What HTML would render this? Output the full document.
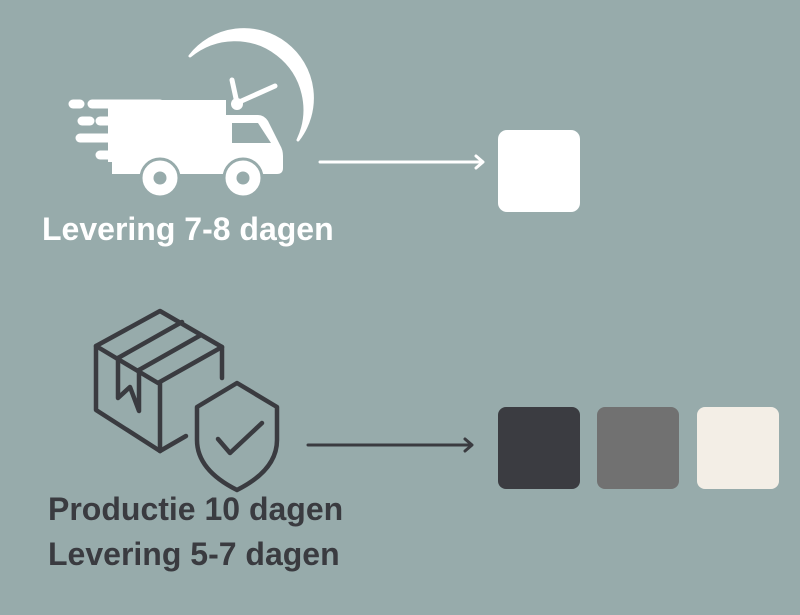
<!DOCTYPE html>
<html><head><style>
body{margin:0;width:800px;height:615px;background:#97abab;position:relative;overflow:hidden;font-family:"Liberation Sans",sans-serif;}
.t{position:absolute;font-weight:bold;white-space:nowrap;}
</style></head><body>
<svg width="800" height="615" style="position:absolute;left:0;top:0">
<path d="M190 56 A70 70 0 0 1 298 140 A66 66 0 0 0 190 56 Z" fill="#fff" stroke="#fff" stroke-width="3" stroke-linejoin="round"/>
<line x1="237" y1="103" x2="232" y2="80" stroke="#fff" stroke-width="5" stroke-linecap="round"/>
<line x1="237" y1="103" x2="275" y2="86" stroke="#fff" stroke-width="5" stroke-linecap="round"/>
<circle cx="237" cy="104" r="6" fill="#fff"/>
<g stroke="#fff" stroke-width="9" stroke-linecap="round">
<line x1="73" y1="104" x2="80" y2="104"/>
<line x1="92" y1="104" x2="160" y2="104"/>
<line x1="82" y1="121" x2="90" y2="121"/>
<line x1="100" y1="121" x2="155" y2="121"/>
<line x1="80" y1="138" x2="150" y2="138"/>
<line x1="100" y1="155" x2="140" y2="155"/>
</g>
<path d="M118 100 H226 V115 H258 Q264 115 268 121 L280 145 Q283 150 283 156 V168 Q283 174 277 174 H112 V162 H108 V100 Z" fill="#fff"/>
<path d="M232 123 H258 L271 143 H232 Z" fill="#97abab"/>
<circle cx="160" cy="178" r="19" fill="#fff" stroke="#97abab" stroke-width="3"/>
<circle cx="160" cy="178" r="6.5" fill="#97abab"/>
<circle cx="243" cy="178" r="19" fill="#fff" stroke="#97abab" stroke-width="3"/>
<circle cx="243" cy="178" r="6.5" fill="#97abab"/>
<g stroke="#fff" stroke-width="3" fill="none" stroke-linecap="round" stroke-linejoin="round">
<line x1="320" y1="162" x2="482" y2="162"/><polyline points="476,156 483,162 476,168"/>
</g>
<rect x="498" y="130" width="82" height="82" rx="9" fill="#fff"/>
<g stroke="#3a3b40" stroke-width="3" fill="none" stroke-linecap="round" stroke-linejoin="round">
<line x1="308" y1="445" x2="471" y2="445"/><polyline points="465,439 472,445 465,451"/>
</g>
<rect x="498" y="407" width="82" height="82" rx="8" fill="#3b3c41"/>
<rect x="597" y="407" width="82" height="82" rx="8" fill="#717171"/>
<rect x="697" y="407" width="82" height="82" rx="8" fill="#f3eee6"/>
<g stroke="#3a3b40" stroke-width="4.5" fill="none" stroke-linecap="round" stroke-linejoin="round">
<polygon points="96,346 160,311 222,347 158,383"/>
<polyline points="96,346 96,410 160,451"/>
<line x1="160" y1="383" x2="160" y2="451"/>
<line x1="222" y1="347" x2="222" y2="378"/>
<line x1="160" y1="451" x2="186" y2="436"/>
<polyline points="118,358 118,398 130,387 139,411 139,370"/>
<line x1="118" y1="358" x2="182" y2="322"/>
<line x1="139" y1="370" x2="201" y2="335"/>
<path d="M237 383 L277 407 V440 Q277 470 237 490 Q197 470 197 440 V407 Z"/>
<polyline points="218,439 230,453 262,423"/>
</g>
</svg>
<div class="t" style="left:42px;top:211px;font-size:32px;color:#fff">Levering 7-8 dagen</div>
<div class="t" style="left:48px;top:491px;font-size:32px;color:#3a3b40">Productie 10 dagen</div>
<div class="t" style="left:48px;top:536px;font-size:32px;color:#3a3b40">Levering 5-7 dagen</div>
</body></html>
